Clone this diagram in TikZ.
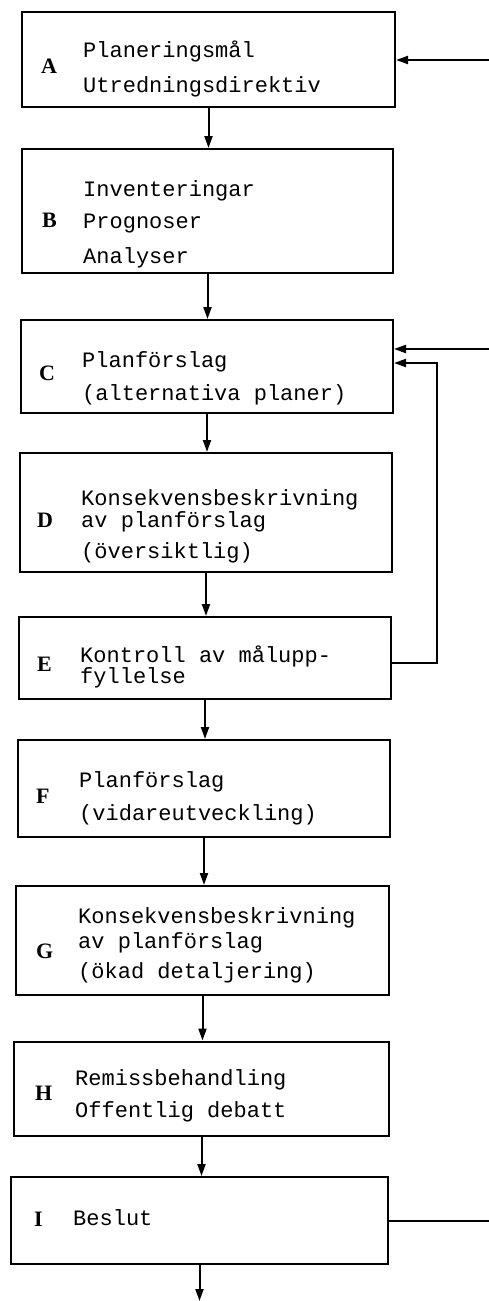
\documentclass[tikz,border=0pt]{standalone}
\usepackage{fontspec}
\setmainfont{Liberation Serif}
\newfontfamily\typew{Liberation Mono}
\usetikzlibrary{arrows.meta}
\tikzset{
  box/.style={draw, line width=2pt, rectangle, inner sep=0pt},
  txt/.style={anchor=base west, inner sep=0pt, font=\typew\fontsize{22}{26}\selectfont},
  tag/.style={anchor=base west, inner sep=0pt, font=\bfseries\fontsize{22}{26}\selectfont},
  link/.style={line width=2pt},
  arr/.style={line width=2pt, -{Triangle[length=12pt,width=8pt]}}
}
\begin{document}
\begin{tikzpicture}[x=1pt,y=-1pt]
\useasboundingbox (0,0) rectangle (489,1301);

% boxes: (left,top) to (right,bottom)
\node[box, minimum width=373pt, minimum height=95pt] (A) at (208.5,59.5) {};
\node[box, minimum width=371pt, minimum height=124pt] (B) at (207.5,211) {};
\node[box, minimum width=372pt, minimum height=93pt] (C) at (207,366.5) {};
\node[box, minimum width=372pt, minimum height=119pt] (D) at (206,512.5) {};
\node[box, minimum width=372pt, minimum height=82pt] (E) at (205,658) {};
\node[box, minimum width=372pt, minimum height=97pt] (F) at (204,788.5) {};
\node[box, minimum width=373pt, minimum height=109pt] (G) at (202.5,940.5) {};
\node[box, minimum width=375pt, minimum height=94pt] (H) at (201.5,1088.5) {};
\node[box, minimum width=377pt, minimum height=87pt] (I) at (199.5,1220.5) {};

% A
\node[tag] (tA) at (41,73) {A};
\node[txt] (a1) at (83,57) {Planeringsmål};
\node[txt] (a2) at (83,92) {Utredningsdirektiv};
% B
\node[tag] (tB) at (42,227) {B};
\node[txt] (b1) at (83,196) {Inventeringar};
\node[txt] (b2) at (83,228) {Prognoser};
\node[txt] (b3) at (83,263) {Analyser};
% C
\node[tag] (tC) at (39,380) {C};
\node[txt] (c1) at (82,367) {Planförslag};
\node[txt] (c2) at (82,400) {(alternativa planer)};
% D
\node[tag] (tD) at (37,527) {D};
\node[txt] (d1) at (81,505) {Konsekvensbeskrivning};
\node[txt] (d2) at (81,527) {av planförslag};
\node[txt] (d3) at (81,558) {(översiktlig)};
% E
\node[tag] (tE) at (37,671) {E};
\node[txt] (e1) at (80,662) {Kontroll av målupp-};
\node[txt] (e2) at (80,683) {fyllelse};
% F
\node[tag] (tF) at (36,803) {F};
\node[txt] (f1) at (79,787) {Planförslag};
\node[txt] (f2) at (79,820) {(vidareutveckling)};
% G
\node[tag] (tG) at (36,958) {G};
\node[txt] (g1) at (78,923) {Konsekvensbeskrivning};
\node[txt] (g2) at (78,948) {av planförslag};
\node[txt] (g3) at (78,978) {(ökad detaljering)};
% H
\node[tag] (tH) at (35,1100) {H};
\node[txt] (h1) at (75,1085) {Remissbehandling};
\node[txt] (h2) at (75,1117) {Offentlig debatt};
% I
\node[tag] (tI) at (34,1226) {I};
\node[txt] (i1) at (73,1225) {Beslut};

% main flow
\draw[arr] (A.south) -- (A.south |- B.north);
\draw[arr] (B.south) -- (B.south |- C.north);
\draw[arr] (C.south) -- (C.south |- D.north);
\draw[arr] (D.south) -- (D.south |- E.north);
\draw[arr] (E.south) -- (E.south |- F.north);
\draw[arr] (F.south) -- (F.south |- G.north);
\draw[arr] (G.south) -- (G.south |- H.north);
\draw[arr] (H.south) -- (H.south |- I.north);
\coordinate (out) at (199.5,1301);
\draw[arr] (I.south) -- (out);

% feedback lines
\coordinate (fa) at (489,60);
\coordinate (fc) at (489,349);
\coordinate (fi) at (489,1221);
\coordinate (eout) at (391,663);
\coordinate (loop) at (437,363);
\draw[arr] (fa) -- (fa -| A.east);
\draw[arr] (fc) -- (fc -| C.east);
\draw[link] (fi -| I.east) -- (fi);
\draw[arr] (eout) -| (loop) -- (loop -| C.east);
\end{tikzpicture}
\end{document}
